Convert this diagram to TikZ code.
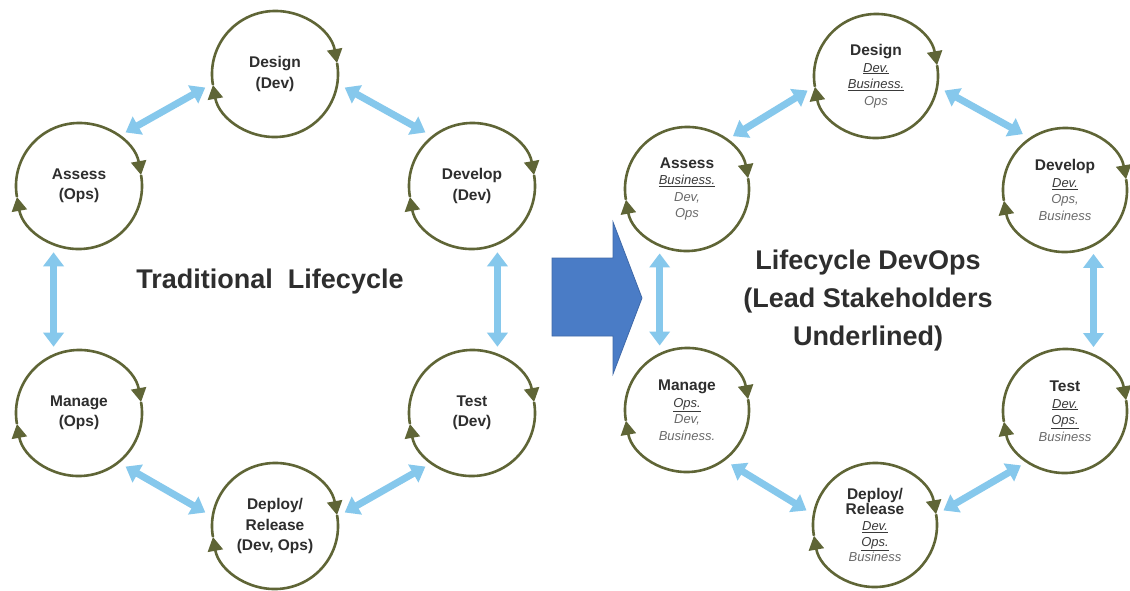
\documentclass[tikz,border=0pt]{standalone}
\usepackage{fontspec}
\setmainfont{Liberation Sans}
\usetikzlibrary{arrows.meta}

\definecolor{cycolive}{HTML}{5F6536}
\definecolor{linkblue}{HTML}{86C8EC}
\definecolor{bigblue}{HTML}{4A7CC6}
\definecolor{txtdark}{HTML}{2E2E2E}
\definecolor{leadgrey}{HTML}{3A3A3A}
\definecolor{othgrey}{HTML}{6A6A6A}

% header and stakeholder lines inside the DevOps circles
\newcommand\stagehead[1]{{\fontsize{15.5}{16}\selectfont\bfseries\color{txtdark}#1}}
\newcommand\leadsh[1]{{\color{leadgrey}\underline{\textit{#1}}}}
\newcommand\othersh[1]{{\color{othgrey}\textit{#1}}}

\begin{document}
\begin{tikzpicture}[x=1pt,y=1pt,
  lstage/.style={circle, minimum size=126pt, inner sep=0pt, outer sep=8pt,
    align=center, text=txtdark, font=\fontsize{15.5}{20.5}\selectfont\bfseries},
  rstage/.style={circle, minimum size=124pt, inner sep=0pt, outer sep=8pt,
    align=center, font=\fontsize{13}{16.5}\selectfont},
  cyc/.style={draw=cycolive, line width=2.6pt,
    -{Triangle[length=14pt,width=15pt]}},
  link/.style={draw=linkblue, line width=7pt,
    {Triangle[length=14pt,width=20pt]}-{Triangle[length=14pt,width=20pt]}},
  title/.style={align=center, text=txtdark,
    font=\fontsize{27}{38}\selectfont\bfseries}]

\useasboundingbox[fill=white] (0,0) rectangle (1130,-590);

% ---------- traditional lifecycle ----------
\node[lstage] (ldesign)  at (275,-74)  {Design\\(Dev)};
\node[lstage] (ldevelop) at (472,-186) {Develop\\(Dev)};
\node[lstage] (ltest)    at (472,-413) {Test\\(Dev)};
\node[lstage] (ldeploy)  at (275,-526) {Deploy/\\Release\\(Dev, Ops)};
\node[lstage] (lmanage)  at (79,-413)  {Manage\\(Ops)};
\node[lstage] (lassess)  at (79,-186)  {Assess\\(Ops)};

\node[title] (ltitle) at (270,-282) {Traditional~ Lifecycle};

% ---------- devops lifecycle ----------
\node[rstage] (rdesign)  at (876,-76)
  {\stagehead{Design}\\\leadsh{Dev.}\\\leadsh{Business.}\\\othersh{Ops}};
\node[rstage] (rdevelop) at (1065,-190)
  {\stagehead{Develop}\\\leadsh{Dev.}\\\othersh{Ops,}\\\othersh{Business}};
\node[rstage] (rtest)    at (1065,-411)
  {\stagehead{Test}\\\leadsh{Dev.}\\\leadsh{Ops.}\\\othersh{Business}};
\node[rstage] (rdeploy)  at (875,-525)
  {\stagehead{Deploy/}\\[-1.5pt]\stagehead{Release}\\\leadsh{Dev.}\\[-1pt]\leadsh{Ops.}\\[-1pt]\othersh{Business}};
\node[rstage] (rmanage)  at (687,-410)
  {\stagehead{Manage}\\\leadsh{Ops.}\\\othersh{Dev,}\\\othersh{Business.}};
\node[rstage] (rassess)  at (687,-189)
  {\stagehead{Assess}\\\leadsh{Business.}\\\othersh{Dev,}\\\othersh{Ops}};

\node[title] (rtitle) at (868,-301)
  {Lifecycle DevOps\\(Lead Stakeholders\\Underlined)};

% ---------- clockwise cycle arrows round every stage ----------
\foreach \n/\r in {ldesign/63, ldevelop/63, ltest/63, ldeploy/63, lmanage/63, lassess/63,
                   rdesign/62, rdevelop/62, rtest/62, rdeploy/62, rmanage/62, rassess/62} {
  \draw[cyc] ([shift={(190:\r)}]\n.center) arc[start angle=190, end angle=10, radius=\r];
  \draw[cyc] ([shift={(10:\r)}]\n.center) arc[start angle=10, end angle=-170, radius=\r];
}

% ---------- two-way links between neighbouring stages ----------
\draw[link] (lassess.49)  -- (ldesign.191);
\draw[link] (ldesign.-11) -- (ldevelop.131);
\draw[link] (ldevelop.-69) -- (ltest.69);
\draw[link] (ltest.229)   -- (ldeploy.11);
\draw[link] (ldeploy.169) -- (lmanage.-49);
\draw[link] (lmanage.111) -- (lassess.249);

\draw[link] (rassess.49)  -- (rdesign.192);
\draw[link] (rdesign.-12) -- (rdevelop.127);
\draw[link] (rdevelop.-66) -- (rtest.66);
\draw[link] (rtest.231)   -- (rdeploy.12);
\draw[link] (rdeploy.168) -- (rmanage.-51);
\draw[link] (rmanage.113) -- (rassess.247);

% ---------- block arrow from the old cycle to the new one ----------
\filldraw[fill=bigblue, draw=bigblue!85!black, line width=0.8pt]
  (552,-258) -- (613,-258) -- (613,-222) -- (642,-298)
  -- (613,-374) -- (613,-336) -- (552,-336) -- cycle;

\end{tikzpicture}
\end{document}
